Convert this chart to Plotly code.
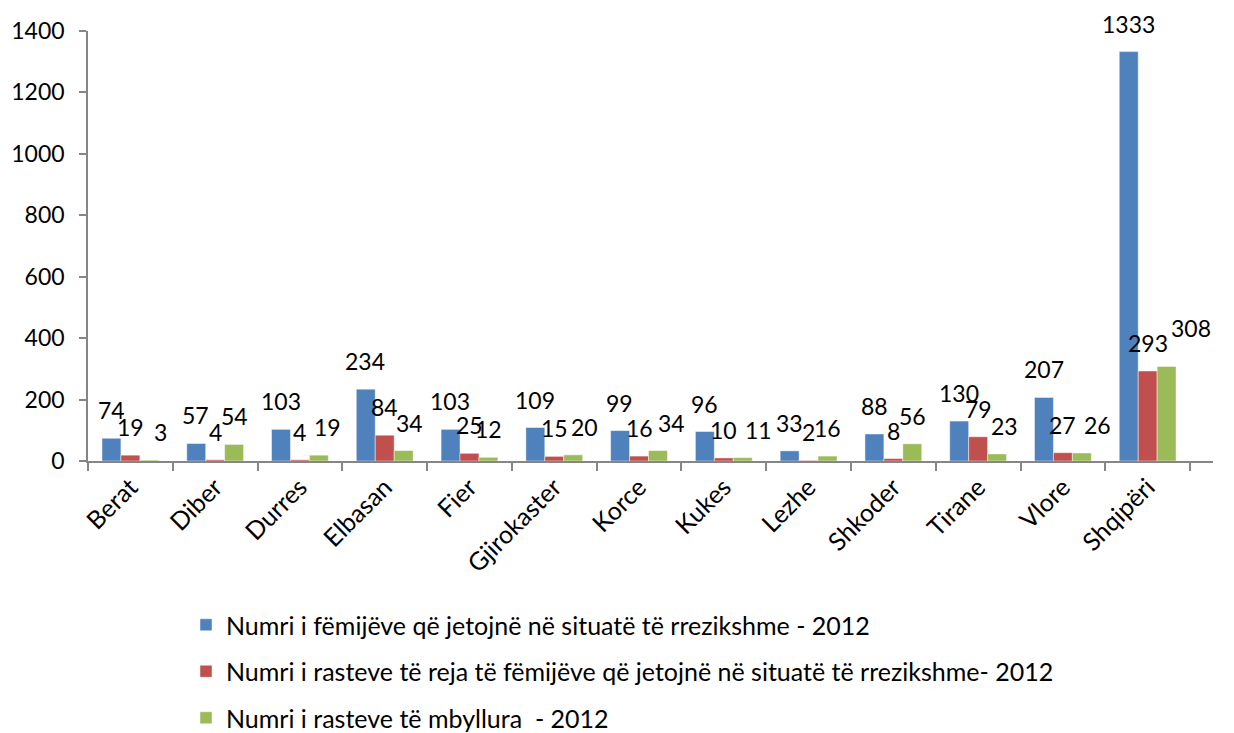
import plotly.graph_objects as go

categories = ["Berat", "Diber", "Durres", "Elbasan", "Fier", "Gjirokaster", "Korce",
              "Kukes", "Lezhe", "Shkoder", "Tirane", "Vlore", "Shqipëri"]
children_at_risk = [74, 57, 103, 234, 103, 109, 99, 96, 33, 88, 130, 207, 1333]
new_cases = [19, 4, 4, 84, 25, 15, 16, 10, 2, 8, 79, 27, 293]
closed_cases = [3, 54, 19, 34, 12, 20, 34, 11, 16, 56, 23, 26, 308]
series_names = [
    "Numri i fëmijëve që jetojnë në situatë të rrezikshme - 2012",
    "Numri i rasteve të reja të fëmijëve që jetojnë në situatë të rrezikshme- 2012",
    "Numri i rasteve të mbyllura  - 2012",
]
y_ticks = [0, 200, 400, 600, 800, 1000, 1200, 1400]

colors = ["#4F81BD", "#C0504D", "#9BBB59"]
FONT = "Lato"
LABEL_SIZE = 23
series = [children_at_risk, new_cases, closed_cases]

# small manual nudges of data labels (px), as in the reference layout
label_nudge = {
    (2, "Berat"): (11, 0), (2, "Durres"): (8, 0), (2, "Elbasan"): (5, 0),
    (2, "Gjirokaster"): (11, 0), (2, "Korce"): (13, 0), (2, "Kukes"): (15, 0),
    (2, "Tirane"): (7, 0), (2, "Vlore"): (15, 0), (2, "Shqipëri"): (24, 10),
}

fig = go.Figure()
for i, (name, vals) in enumerate(zip(series_names, series)):
    fig.add_trace(go.Bar(
        x=categories, y=vals, name=name, legendgroup=f"g{i}",
        marker=dict(color=colors[i], line=dict(width=1, color="rgba(255,255,255,0.45)")),
    ))

# page body has an 8px margin: figure sits at (8, 8)
W, H = 1226, 725
ml, mr, mt, mb = 80, 21, 23, 272
plot_w = W - ml - mr
plot_h = H - mt - mb
cat_w = plot_w / len(categories)
bargap = 0.33
bar_w = cat_w * (1 - bargap) / 3

annotations = []
for i, vals in enumerate(series):
    for c, v in zip(categories, vals):
        dx, dy = label_nudge.get((i, c), (0, 0))
        annotations.append(dict(
            x=c, y=v, xref="x", yref="y", text=str(v), showarrow=False,
            yanchor="bottom", xanchor="center",
            xshift=(i - 1) * bar_w + dx, yshift=12 + dy,
            font=dict(family=FONT, size=LABEL_SIZE, color="#000000"),
        ))

fig.update_layout(
    width=W, height=H,
    margin=dict(l=ml, r=mr, t=mt, b=mb, autoexpand=False),
    paper_bgcolor="white", plot_bgcolor="white",
    barmode="group", bargap=bargap, bargroupgap=0,
    font=dict(family=FONT, size=LABEL_SIZE, color="#000000"),
    showlegend=True,
    legend=dict(
        orientation="v", x=(178 - ml) / plot_w, xanchor="left",
        y=-(594 - (H - mb)) / plot_h, yanchor="top",
        traceorder="grouped", tracegroupgap=11,
        font=dict(family=FONT, size=25, color="#000000"),
        itemwidth=30, bgcolor="rgba(0,0,0,0)",
    ),
    annotations=annotations,
)
fig.update_yaxes(
    range=[0, 1400], tickvals=y_ticks, ticktext=[str(t) for t in y_ticks],
    showgrid=False, zeroline=False, showline=True, linecolor="#868686", linewidth=1.5,
    ticks="outside", ticklen=7, tickcolor="#868686", tickwidth=1.5,
    ticklabelstandoff=10,
    tickfont=dict(family=FONT, size=LABEL_SIZE, color="#000000"),
)
fig.update_xaxes(
    type="category", showgrid=False, showline=True, linecolor="#868686", linewidth=1.5,
    ticks="outside", ticklen=8, tickcolor="#868686", tickwidth=1.5,
    tickson="boundaries", tickangle=-45,
    tickfont=dict(family=FONT, size=25, color="#000000"),
)

fig.write_html("out.html")
